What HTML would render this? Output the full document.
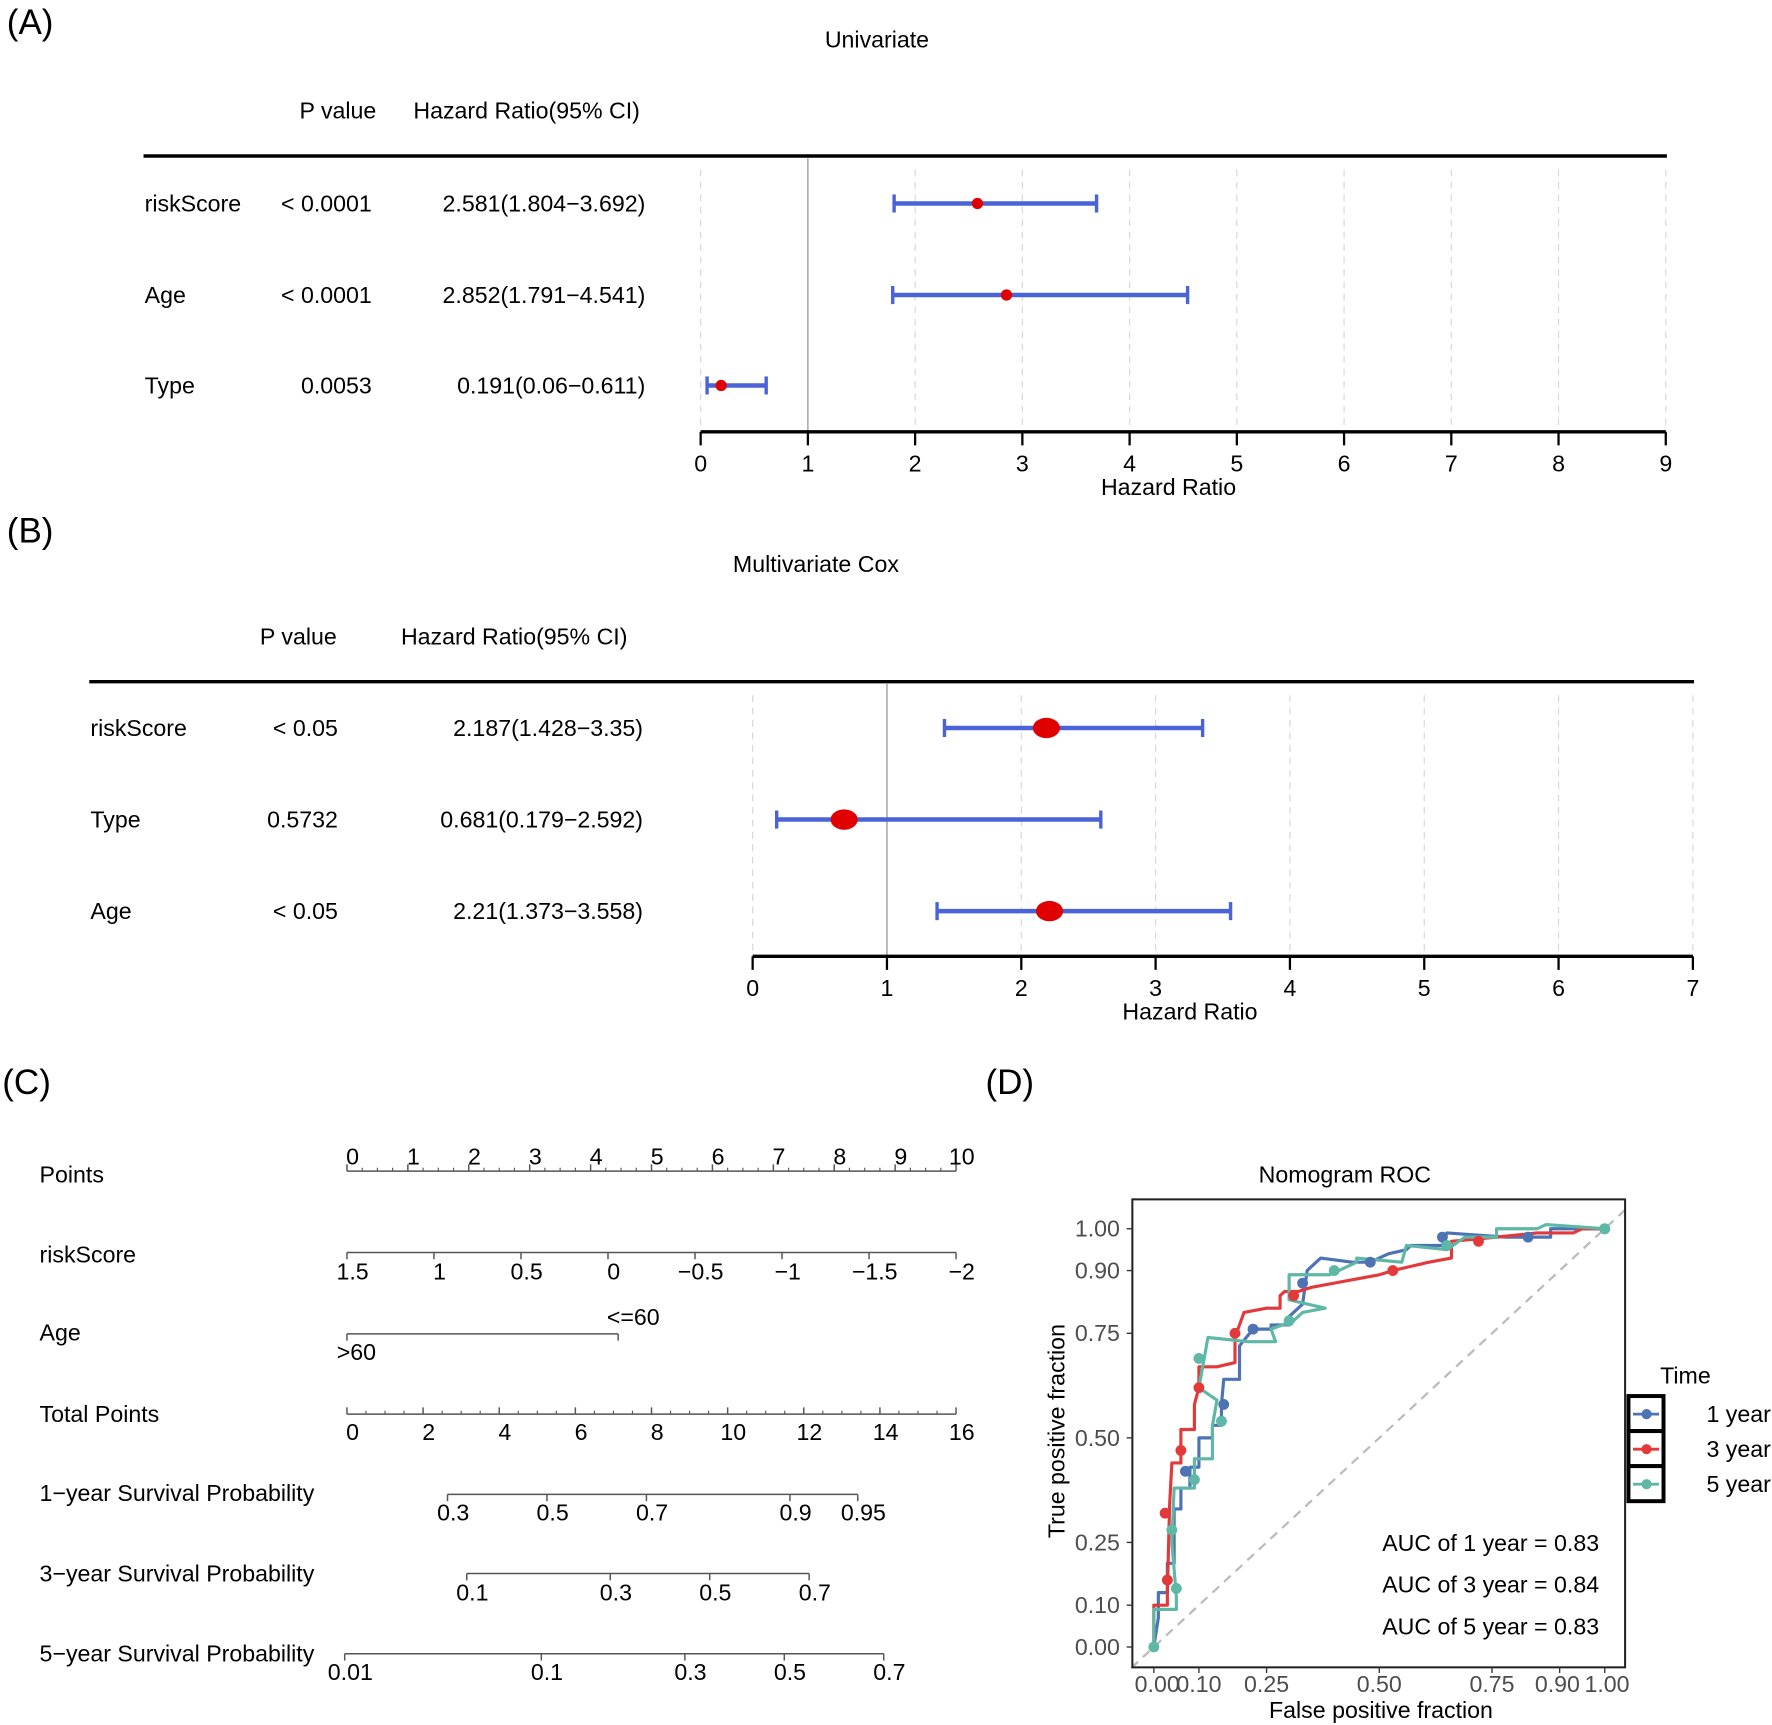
<!DOCTYPE html>
<html><head><meta charset="utf-8"><style>
html,body{margin:0;padding:0;background:#fff}
svg{display:block}
text{font-family:"Liberation Sans",sans-serif}
</style></head><body>
<svg id="fig" width="1772" height="1725" viewBox="0 0 1568 1526" preserveAspectRatio="none">
<g font-size="31" fill="#000">
<text x="6" y="30">(A)</text>
<text x="6" y="480">(B)</text>
<text x="2" y="968">(C)</text>
<text x="872" y="968">(D)</text>
</g>
<g id="forestA"></g>
<g id="forestB"></g>
<g id="nomo"></g>
<g id="roc"></g>
</svg>
<script>
// ---- Forest data ----
const uniVars = ["riskScore","Age","Type"];
const uniP = ["< 0.0001","< 0.0001","0.0053"];
const uniHRtext = ["2.581(1.804\u22123.692)","2.852(1.791\u22124.541)","0.191(0.06\u22120.611)"];
const uniHR = [2.581,2.852,0.191];
const uniLo = [1.804,1.791,0.06];
const uniHi = [3.692,4.541,0.611];
const uniTicks = [0,1,2,3,4,5,6,7,8,9];
const mulVars = ["riskScore","Type","Age"];
const mulP = ["< 0.05","0.5732","< 0.05"];
const mulHRtext = ["2.187(1.428\u22123.35)","0.681(0.179\u22122.592)","2.21(1.373\u22123.558)"];
const mulHR = [2.187,0.681,2.21];
const mulLo = [1.428,0.179,1.373];
const mulHi = [3.35,2.592,3.558];
const mulTicks = [0,1,2,3,4,5,6,7];
// ---- ROC data ----
const rocSeries = ["1 year","3 year","5 year"];
const rocAUC = ["0.83","0.84","0.83"];
const fpr1 = [0,0.01,0.01,0.03,0.03,0.045,0.045,0.06,0.06,0.08,0.08,0.1,0.1,0.13,0.13,0.15,0.15,0.155,0.19,0.19,0.22,0.26,0.26,0.3,0.3,0.33,0.34,0.37,0.44,0.48,0.52,0.56,0.57,0.64,0.65,0.78,0.84,0.88,0.88,0.96,1];
const tpr1 = [0,0.07,0.13,0.13,0.2,0.2,0.33,0.33,0.38,0.38,0.43,0.43,0.5,0.5,0.53,0.53,0.58,0.64,0.64,0.72,0.76,0.76,0.77,0.77,0.79,0.82,0.9,0.93,0.92,0.92,0.94,0.95,0.96,0.96,0.99,0.98,0.98,0.98,1.0,1.0,1];
const fpr3 = [0,0,0.03,0.03,0.035,0.04,0.06,0.06,0.09,0.09,0.1,0.1,0.14,0.18,0.18,0.2,0.25,0.28,0.28,0.29,0.32,0.35,0.4,0.45,0.5,0.53,0.57,0.61,0.66,0.66,0.76,0.85,0.93,0.95,1];
const tpr3 = [0,0.1,0.1,0.13,0.34,0.44,0.44,0.52,0.52,0.58,0.62,0.67,0.67,0.68,0.74,0.8,0.81,0.81,0.84,0.85,0.85,0.86,0.87,0.88,0.89,0.9,0.91,0.92,0.93,0.97,0.98,0.99,0.99,1.0,1];
const fpr5 = [0,0,0.05,0.05,0.04,0.045,0.09,0.09,0.13,0.13,0.14,0.1,0.12,0.21,0.27,0.26,0.31,0.33,0.38,0.3,0.3,0.39,0.45,0.45,0.55,0.56,0.65,0.69,0.76,0.76,0.85,0.87,1];
const tpr5 = [0,0.09,0.09,0.12,0.25,0.38,0.38,0.45,0.45,0.53,0.59,0.62,0.74,0.73,0.73,0.76,0.78,0.8,0.81,0.83,0.89,0.89,0.92,0.93,0.92,0.96,0.95,0.98,0.98,1.0,1.0,1.01,1];
const dotF1 = [0.07,0.155,0.22,0.33,0.48,0.64,0.83,1];
const dotT1 = [0.42,0.58,0.76,0.87,0.92,0.98,0.98,1];
const dotF3 = [0.025,0.03,0.06,0.1,0.18,0.31,0.53,0.72];
const dotT3 = [0.32,0.16,0.47,0.62,0.75,0.84,0.9,0.97];
const dotF5 = [0,0.04,0.05,0.09,0.1,0.15,0.3,0.4,0.65,1];
const dotT5 = [0,0.28,0.14,0.4,0.69,0.54,0.78,0.9,0.96,1];
const rocYTicks = [0,0.1,0.25,0.5,0.75,0.9,1];
const rocYLabels = ["0.00","0.10","0.25","0.50","0.75","0.90","1.00"];
const rocXTicks = [0,0.1,0.25,0.5,0.75,0.9,1];
const rocXLabels = ["0.00","0.10","0.25","0.50","0.75","0.90","1.00"];
// ---- Nomogram data ----
const pointsTicks = [0,1,2,3,4,5,6,7,8,9,10];
const riskTicks = [1.5,1,0.5,0,-0.5,-1,-1.5,-2];
const riskLabels = ["1.5","1","0.5","0","\u22120.5","\u22121","\u22121.5","\u22122"];
const totalTicks = [0,2,4,6,8,10,12,14,16];
const surv1Labels = ["0.3","0.5","0.7","0.9","0.95"];
const surv1Pos = [396,484,572,699,759];
const surv3Labels = ["0.1","0.3","0.5","0.7"];
const surv3Pos = [413,540,628,716];
const surv5Labels = ["0.01","0.1","0.3","0.5","0.7"];
const surv5Pos = [305,479,606,694,782];

const NS="http://www.w3.org/2000/svg";
const FS=20.5;
function mk(parent,tag,attrs,txt){const e=document.createElementNS(NS,tag);for(const k in attrs)e.setAttribute(k,attrs[k]);if(txt!==undefined)e.textContent=txt;parent.appendChild(e);return e;}

function forest(g,o){
  const sx=v=>o.x0+(v-o.ticks[0])*(o.x1-o.x0)/(o.ticks[o.ticks.length-1]-o.ticks[0]);
  let t=mk(g,'text',{x:o.titleX,y:o.titleY,'font-size':FS,'text-anchor':'middle'},o.title);
  
  
  t=mk(g,'text',{x:o.pX,y:o.top-33,'font-size':FS,'text-anchor':'middle'},'P value');
  
  
  t=mk(g,'text',{x:o.hrX,y:o.top-33,'font-size':FS,'text-anchor':'middle'},'Hazard Ratio(95% CI)');
  
  
  let l=mk(g,'line',{x1:o.left,x2:o.x1+1,y1:o.top,y2:o.top,stroke:'#000','stroke-width':3});
  
  
  o.ticks.forEach(v=>{
    if(v===1){
      const gl=mk(g,'line',{x1:sx(v),x2:sx(v),y1:o.top+2,y2:o.axisY,stroke:'#888','stroke-width':1});
      
      
    } else {
      const gl=mk(g,'line',{x1:sx(v),x2:sx(v),y1:o.top+12,y2:o.axisY,stroke:'#d6d6d6','stroke-width':1,'stroke-dasharray':'6,5'});
      
      
    }
  });
  o.vars.forEach((name,i)=>{
    const y=o.rows[i];
    let a=mk(g,'text',{x:o.left+1,y:y+7,'font-size':FS},name);
    
    
    a=mk(g,'text',{x:o.pRight,y:y+7,'font-size':FS,'text-anchor':'end'},o.p[i]);
    
    
    a=mk(g,'text',{x:o.hrRight,y:y+7,'font-size':FS,'text-anchor':'end'},o.hrText[i]);
    
    
    const ci=mk(g,'line',{x1:sx(o.lo[i]),x2:sx(o.hi[i]),y1:y,y2:y,stroke:'#4a63d8','stroke-width':4});
    
    
    [o.lo[i],o.hi[i]].forEach(v=>{
      const c=mk(g,'line',{x1:sx(v),x2:sx(v),y1:y-8,y2:y+8,stroke:'#4a63d8','stroke-width':3});
      
      
    });
    const pt=mk(g,'ellipse',{cx:sx(o.hr[i]),cy:y,rx:o.rx,ry:o.ry,fill:'#e00000'});
    
    
  });
  l=mk(g,'line',{x1:o.x0,x2:o.x1,y1:o.axisY,y2:o.axisY,stroke:'#000','stroke-width':3});
  
  
  o.ticks.forEach(v=>{
    const tk=mk(g,'line',{x1:sx(v),x2:sx(v),y1:o.axisY,y2:o.axisY+12,stroke:'#000','stroke-width':2});
    
    
    const tl=mk(g,'text',{x:sx(v),y:o.axisY+35,'font-size':FS,'text-anchor':'middle'},String(v));
    
    
  });
  t=mk(g,'text',{x:o.xtX,y:o.axisY+56,'font-size':FS,'text-anchor':'middle'},'Hazard Ratio');
  
  
}
forest(document.getElementById('forestA'),{title:'Univariate',titleX:776,titleY:42,top:138,pX:299,hrX:466,left:127,pRight:329,hrRight:571,x0:620,x1:1474,ticks:uniTicks,rows:[180,261,341],axisY:382,xtX:1034,vars:uniVars,p:uniP,hrText:uniHRtext,hr:uniHR,lo:uniLo,hi:uniHi,rx:5,ry:5});
forest(document.getElementById('forestB'),{title:'Multivariate Cox',titleX:722,titleY:506,top:603,pX:264,hrX:455,left:79,pRight:299,hrRight:569,x0:666,x1:1498,ticks:mulTicks,rows:[644,725,806],axisY:846,xtX:1053,vars:mulVars,p:mulP,hrText:mulHRtext,hr:mulHR,lo:mulLo,hi:mulHi,rx:12,ry:9});

// ---- Nomogram ----
(function(){
  const g=document.getElementById('nomo');
  const rowNames=["Points","riskScore","Age","Total Points","1\u2212year Survival Probability","3\u2212year Survival Probability","5\u2212year Survival Probability"];
  const rowY=[1039,1110,1179,1251,1321,1392,1463];
  rowNames.forEach((n,i)=>{
    const t=mk(g,'text',{x:35,y:rowY[i]+7,'font-size':FS},n);
    
    
  });
  const gray='#555';
  function axis(y,x0,x1,pos,labels,up,labelY,minorPos){
    const l=mk(g,'line',{x1:x0,x2:x1,y1:y,y2:y,stroke:gray,'stroke-width':1.3});
    
    
    pos.forEach((x,i)=>{
      const tk=mk(g,'line',{x1:x,x2:x,y1:y,y2:up?y-6:y+6,stroke:gray,'stroke-width':1.3});
      
      
      const tl=mk(g,'text',{x:x+5,y:labelY,'font-size':FS,'text-anchor':'middle'},labels[i]);
      
      
    });
    (minorPos||[]).forEach(x=>{
      const tk=mk(g,'line',{x1:x,x2:x,y1:y,y2:up?y-3:y+3,stroke:gray,'stroke-width':1});
      
      
    });
  }
  const px=v=>307+v*(846-307)/10;
  const minorP=[];for(let i=0;i<40;i++)if(i%4)minorP.push(px(i/4));
  axis(1036,307,846,pointsTicks.map(px),pointsTicks.map(String),true,1030,minorP);
  const rx=v=>307+(1.5-v)*(846-307)/3.5;
  axis(1108,307,846,riskTicks.map(rx),riskLabels,false,1132);
  // Age
  let l=mk(g,'line',{x1:307,x2:547,y1:1180,y2:1180,stroke:gray,'stroke-width':1.3});
  
  
  [307,547].forEach(x=>{const tk=mk(g,'line',{x1:x,x2:x,y1:1180,y2:1186,stroke:gray,'stroke-width':1.3});
    
    });
  let t=mk(g,'text',{x:537,y:1172,'font-size':FS},'<=60');
  
  
  t=mk(g,'text',{x:298,y:1203,'font-size':FS},'>60');
  
  
  const tx=v=>307+v*(846-307)/16;
  const minorT=[];for(let i=0;i<32;i++)if(i%4)minorT.push(tx(i/2));
  axis(1251,307,846,totalTicks.map(tx),totalTicks.map(String),true,1274,minorT);
  axis(1322,396,759,surv1Pos,surv1Labels,false,1345);
  axis(1392,413,716,surv3Pos,surv3Labels,false,1416);
  axis(1463,305,782,surv5Pos,surv5Labels,false,1486);
})();

// ---- ROC ----
(function(){
  const g=document.getElementById('roc');
  const X0=1021,X1=1420,Y0=1457,Y1=1087;
  const sx=v=>X0+v*(X1-X0), sy=v=>Y0-v*(Y0-Y1);
  const bx=1002,by=1061,bw=436,bh=414;
  let t=mk(g,'text',{x:1190,y:1046,'font-size':FS,'text-anchor':'middle'},'Nomogram ROC');
  
  
  const d=mk(g,'line',{x1:sx(-0.05),y1:sy(-0.05),x2:sx(1.045),y2:sy(1.045),stroke:'#bbb','stroke-width':2,'stroke-dasharray':'8,6'});
  
  
  const cols=['#4e73b5','#e4393b','#5fb8a6'];
  const fs=[fpr1,fpr3,fpr5],ts=[tpr1,tpr3,tpr5],dfs=[dotF1,dotF3,dotF5],dts=[dotT1,dotT3,dotT5];
  fs.forEach((f,s)=>{
    const p=mk(g,'polyline',{points:f.map((v,i)=>sx(v)+','+sy(ts[s][i])).join(' '),fill:'none',stroke:cols[s],'stroke-width':2.8,'stroke-linejoin':'round'});
    
    
  });
  dfs.forEach((f,s)=>{
    f.forEach((v,i)=>{
      const c=mk(g,'circle',{cx:sx(v),cy:sy(dts[s][i]),r:4.8,fill:cols[s]});
      
      
    });
  });
  const r=mk(g,'rect',{x:bx,y:by,width:bw,height:bh,fill:'none',stroke:'#222','stroke-width':1.8});
  
  
  rocYTicks.forEach((v,i)=>{
    const tk=mk(g,'line',{x1:bx-5,x2:bx,y1:sy(v),y2:sy(v),stroke:'#333','stroke-width':1.2});
    
    
    const tl=mk(g,'text',{x:bx-11,y:sy(v)+7,'font-size':FS,'text-anchor':'end',fill:'#4d4d4d'},rocYLabels[i]);
    
    
  });
  rocXTicks.forEach((v,i)=>{
    const tk=mk(g,'line',{x1:sx(v),x2:sx(v),y1:by+bh,y2:by+bh+5,stroke:'#333','stroke-width':1.2});
    
    
    const tl=mk(g,'text',{x:sx(v)+(v===0?3:v===0.1?0:v===0.9?-2:v===1?2:0),y:by+bh+22,'font-size':FS,'text-anchor':'middle',fill:'#4d4d4d'},rocXLabels[i]);
    
    
  });
  t=mk(g,'text',{x:1222,y:1520,'font-size':FS,'text-anchor':'middle'},'False positive fraction');
  
  
  t=mk(g,'text',{x:942,y:1266,'font-size':FS,'text-anchor':'middle',transform:'rotate(-90 942 1266)'},'True positive fraction');
  
  
  rocSeries.forEach((n,i)=>{
    const a=mk(g,'text',{x:1415,y:1372+i*37,'font-size':FS,'text-anchor':'end'},'AUC of '+n+' = '+rocAUC[i]);
    
    
  });
  t=mk(g,'text',{x:1469,y:1224,'font-size':FS},'Time');
  
  
  rocSeries.forEach((n,i)=>{
    const y=1235+i*31;
    const k=mk(g,'rect',{x:1441,y:y,width:31,height:31,fill:'#fff',stroke:'#000','stroke-width':3.5});
    
    
    const ln=mk(g,'line',{x1:1445,x2:1468,y1:y+16,y2:y+16,stroke:cols[i],'stroke-width':2.5});
    
    
    const c=mk(g,'circle',{cx:1457,cy:y+16,r:4.5,fill:cols[i]});
    
    
    const tl=mk(g,'text',{x:1510,y:y+23,'font-size':FS},n);
    
    
  });
})();
</script>
</body></html>
